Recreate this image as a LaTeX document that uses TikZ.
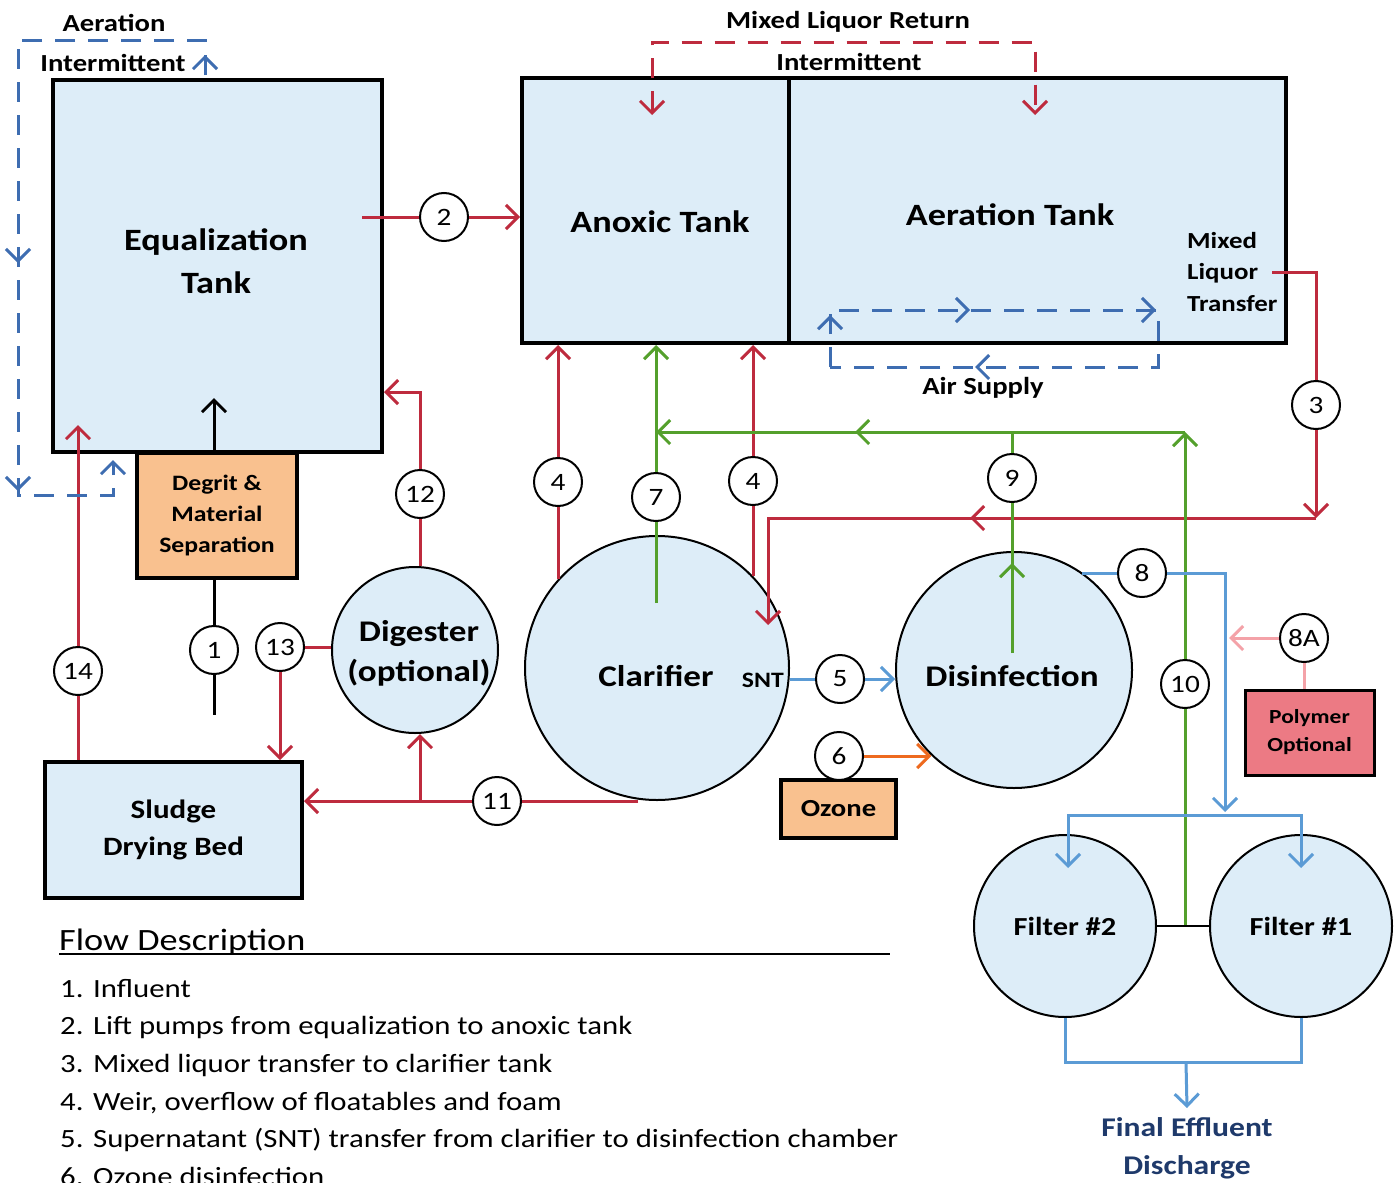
\documentclass[tikz,border=0pt]{standalone}
\usepackage{fontspec}
\setmainfont{Carlito}[FakeStretch=1.17]
\usetikzlibrary{arrows.meta,positioning,decorations.markings}
\definecolor{tankfill}{HTML}{DDEDF8}
\definecolor{flowred}{HTML}{BE2B3E}
\definecolor{flowgreen}{HTML}{54A02C}
\definecolor{airblue}{HTML}{3E6DB1}
\definecolor{flowblue}{HTML}{5B9BD5}
\definecolor{floworange}{HTML}{EE6A1F}
\definecolor{flowpink}{HTML}{F4A2A8}
\definecolor{boxorange}{HTML}{F9C18F}
\definecolor{polypink}{HTML}{EC7A84}
\definecolor{efftext}{HTML}{1F3A6B}
\newcommand\fsTank{\fontsize{31}{43}\selectfont\bfseries}
\newcommand\fsVessel{\fontsize{30}{40}\selectfont\bfseries}
\newcommand\fsBox{\fontsize{22}{31}\selectfont\bfseries}
\newcommand\fsLabel{\fontsize{24.5}{31}\selectfont\bfseries}
\newcommand\fsNum{\fontsize{25}{30}\selectfont}
\newcommand\fsList{\fontsize{26.3}{33}\selectfont}
\newcommand\fsHead{\fontsize{31}{36}\selectfont}
\tikzset{
  tankbox/.style={rectangle, draw=black, line width=4pt, fill=tankfill,
    inner sep=0pt, font=\fsTank, align=center},
  procbox/.style={rectangle, draw=black, line width=4pt, fill=#1,
    inner sep=0pt, font=\fsBox, align=center},
  procbox/.default=boxorange,
  vessel/.style={circle, draw=black, line width=2pt, fill=tankfill,
    inner sep=0pt, minimum size=#1, font=\fsVessel, align=center},
  numcirc/.style={circle, draw=black, line width=2pt, fill=white,
    minimum size=48pt, inner sep=0pt, font=\fsNum},
  tanklabel/.style={font=\fsTank, align=center},
  vessellabel/.style={font=\fsVessel, align=center},
  smalllabel/.style={font=\fsLabel, align=center, inner sep=2pt},
  listitem/.style={font=\fsList, anchor=base west, inner sep=0pt},
  flow/.style={line width=3pt, draw=#1},
  flow/.default=flowred,
  dashpat/.style={dash pattern=on 20pt off 13pt},
  midarrow/.style={postaction={decorate, decoration={markings,
    mark=at position #1 with {\arrow{>}}}}},
}

\begin{document}
\begin{tikzpicture}[x=1pt, y=-1pt, >={Straight Barb[length=12pt,width=24pt]}]
  \path[fill=white] (0,0) rectangle (1398,1183);
  \useasboundingbox (0,0) rectangle (1398,1183);

  % tanks and boxes
  \node[tankbox, minimum width=329pt, minimum height=372pt] (eq) at (217.5,266) {};
  \node[tankbox, minimum width=267pt, minimum height=265pt] (anoxic) at (655.5,210.5) {};
  \node[tankbox, minimum width=497pt, minimum height=265pt] (aer) at (1037.5,210.5) {};
  \node[tanklabel] (eqlabel) at (216,261) {Equalization\\Tank};
  \node[tanklabel] (anoxiclabel) at (660,222) {Anoxic Tank};
  \node[tanklabel] (aerlabel) at (1010,215) {Aeration Tank};
  \node[procbox, minimum width=160pt, minimum height=125pt] (degrit) at (217,515.5) {Degrit \&\\Material\\Separation};
  \node[tankbox, minimum width=257pt, minimum height=136pt, font=\fontsize{26.5}{37}\selectfont\bfseries] (sludge) at (173.5,830) {Sludge\\Drying Bed};
  \node[procbox, minimum width=115pt, minimum height=58pt, font=\fontsize{24.5}{30}\selectfont\bfseries] (ozone) at (838.5,809) {Ozone};
  \node[procbox=polypink, line width=3pt, minimum width=129pt, minimum height=85pt, font=\fontsize{20}{28}\selectfont\bfseries] (polymer) at (1309.5,732.5) {Polymer\\Optional};

  % vessels
  \node[vessel=166pt] (digester) at (415,650) {};
  \node[vessel=264pt] (clarifier) at (657,668) {};
  \node[vessel=236pt] (disinf) at (1014,670) {};
  \node[vessel=182pt, font=\fontsize{26}{30}\selectfont\bfseries] (filter2) at (1065,926) {Filter \#2};
  \node[vessel=182pt, font=\fontsize{26}{30}\selectfont\bfseries] (filter1) at (1301,926) {Filter \#1};
  \node[vessellabel] (diglabel) at (419,653) {Digester\\(optional)};
  \node[vessellabel] (clarlabel) at (656,676) {Clarifier};
  \node[vessellabel] (dislabel) at (1012,676) {Disinfection};
  \node[smalllabel, font=\fontsize{22}{26}\selectfont\bfseries, left=4pt of clarifier.east, yshift=-12pt] (snt) {SNT};

  % flow numbers
  \node[numcirc] (n1) at (214,650) {1};
  \node[numcirc] (n2) at (444,217) {2};
  \node[numcirc] (n3) at (1316,405) {3};
  \node[numcirc] (n4a) at (558,482) {4};
  \node[numcirc] (n4b) at (753,481) {4};
  \node[numcirc] (n5) at (840,679) {5};
  \node[numcirc] (n6) at (839,756) {6};
  \node[numcirc] (n7) at (656,497) {7};
  \node[numcirc] (n8) at (1142,573) {8};
  \node[numcirc] (n8A) at (1304,638) {8A};
  \node[numcirc] (n9) at (1012,478) {9};
  \node[numcirc] (n10) at (1185,684) {10};
  \node[numcirc] (n11) at (497,801) {11};
  \node[numcirc] (n12) at (420,494) {12};
  \node[numcirc] (n13) at (280,647) {13};
  \node[numcirc] (n14) at (78,671) {14};

  % labels
  \node[smalllabel] (aerlbl) at (114,23) {Aeration};
  \node[smalllabel] (intlbl) at (113,63) {Intermittent};
  \node[smalllabel] (mlrlbl) at (848,22) {Mixed Liquor Return};
  \node[smalllabel] (mlrint) at (849,62) {Intermittent};
  \node[smalllabel] (airlbl) at (983,388) {Air Supply};
  \node[smalllabel, font=\fontsize{23}{31.5}\selectfont\bfseries, align=left, anchor=west] (mltlbl) at (1185,272) {Mixed\\Liquor\\Transfer};
  \node[smalllabel, font=\fontsize{27}{38}\selectfont\bfseries, text=efftext, anchor=north, inner ysep=9pt] (effluent) at (1187,1108) {Final Effluent\\Discharge};

  % coordinates
  \coordinate (infl) at (214,715);
  \coordinate (eqin) at (214,398);
  \coordinate (eqout) at (362,217);
  \coordinate (eqin14) at (78,425);
  \coordinate (eqin12) at (384,392);
  \coordinate (clar11) at (638,801);
  \coordinate (clar7) at (656,603);
  \coordinate (mlt) at (1272,272);
  \coordinate (j3) at (1316,518);
  \coordinate (clar3) at (768,625);
  \coordinate (g10) at (1185,926);
  \coordinate (gtop) at (1185,432);
  \coordinate (dis9) at (1012,653);
  \coordinate (b8) at (1225,812);
  \coordinate (f2in) at (1068,868);
  \coordinate (f1in) at (1301,868);
  \coordinate (splitR) at (1301,815);
  \coordinate (outy) at (1186,1062);
  \coordinate (pin) at (1229,638);
  \coordinate (mlrL) at (652,115);
  \coordinate (mlrTop) at (1035,42);
  \coordinate (mlrR) at (1035,115);
  \coordinate (asBL) at (830,367);
  \coordinate (asTR) at (1158,310);
  \coordinate (aiOut) at (205,75);
  \coordinate (aiTL) at (18,40);
  \coordinate (aiBL) at (18,495);
  \coordinate (aiIn) at (113,460);

  % influent
  \draw[flow=black] (degrit.south -| n1) -- (n1);
  \draw[flow=black] (n1) -- (infl);
  \draw[flow=black, ->] (degrit.north -| eqin) -- (eqin);

  % red flows
  \draw[flow] (eqout) -- (n2);
  \draw[flow, ->] (n2) -- (n2 -| anoxic.west);
  \draw[flow] (sludge.north -| n14) -- (n14);
  \draw[flow, ->] (n14) -- (eqin14);
  \draw[flow] (n12 |- digester.north) -- (n12);
  \draw[flow, ->] (n12) |- (eqin12);
  \draw[flow] (digester.west |- n13) -- (n13);
  \draw[flow, ->] (n13) -- (n13 |- sludge.north);
  \draw[flow] (clar11) -- (n11);
  \draw[flow, ->] (n11) -- (n11 -| sludge.east);
  \draw[flow, ->] (n12 |- n11) -- (n12 |- digester.south);
  \draw[flow] (n4a |- clarifier.138.6) -- (n4a);
  \draw[flow, ->] (n4a) -- (n4a |- anoxic.south);
  \draw[flow] (n4b |- clarifier.44) -- (n4b);
  \draw[flow, ->] (n4b) -- (n4b |- anoxic.south);
  \draw[flow] (mlt) -| (n3);
  \draw[flow, ->] (n3) -- (j3);
  \draw[flow, ->, midarrow=346pt] (j3) -| (clar3);

  % green flows
  \draw[flow=flowgreen] (clar7) -- (n7);
  \draw[flow=flowgreen, ->] (n7) -- (n7 |- anoxic.south);
  \draw[flow=flowgreen] (g10) -- (n10);
  \draw[flow=flowgreen, ->] (n10) -- (gtop);
  \draw[flow=flowgreen, ->, midarrow=330pt] (gtop) -- (n7 |- gtop);
  \draw[flow=flowgreen, midarrow=90pt] (dis9) -- (n9);
  \draw[flow=flowgreen] (n9) -- (n9 |- gtop);

  % blue flows
  \draw[flow=flowblue] (n5 -| clarifier.east) -- (n5);
  \draw[flow=flowblue, ->] (n5) -- (n5 -| disinf.west);
  \draw[flow=flowblue] (n8 -| disinf.55) -- (n8);
  \draw[flow=flowblue, ->] (n8) -| (b8);
  \draw[flow=flowblue, <->] (f2in) |- (splitR) -- (f1in);
  \draw[flow=flowblue] (filter2.south) |- (outy) -| (filter1.south);
  \draw[flow=flowblue, ->] (outy) -- (effluent.north);
  \draw[line width=2pt] (filter2.east) -- (filter1.west);

  % polymer and ozone
  \draw[flow=flowpink] (polymer.north -| n8A) -- (n8A);
  \draw[flow=flowpink, ->] (n8A) -- (pin);
  \draw[flow=floworange, ->] (n6) -- (n6 -| disinf.226);

  % dashed loops
  \draw[flow, dashpat, <->] (mlrL) |- (mlrTop) -- (mlrR);
  \draw[flow=airblue, dashpat, midarrow=52pt, midarrow=197pt, midarrow=383pt, midarrow=625pt] (asBL) |- (asTR) |- (asBL);
  \draw[flow=airblue, dashpat, ->, midarrow=20pt, midarrow=445pt, midarrow=673pt] (aiOut) |- (aiTL) -- (aiBL) -| (aiIn);

  % flow description
  \node[font=\fsHead, anchor=base west, inner sep=0pt] (flowhead) at (59,950) {Flow Description};
  \coordinate (ulend) at (890,954);
  \draw[line width=1.5pt] (flowhead.west |- ulend) -- (ulend);
  \foreach \txt [count=\i] in {Influent, Lift pumps from equalization to anoxic tank,
      Mixed liquor transfer to clarifier tank, {Weir, overflow of floatables and foam},
      Supernatant (SNT) transfer from clarifier to disinfection chamber, Ozone disinfection}
    \node[listitem] (item\i) at (60,{997+37.7*(\i-1)}) {\makebox[33pt][l]{\i.}\txt};
\end{tikzpicture}
\end{document}
